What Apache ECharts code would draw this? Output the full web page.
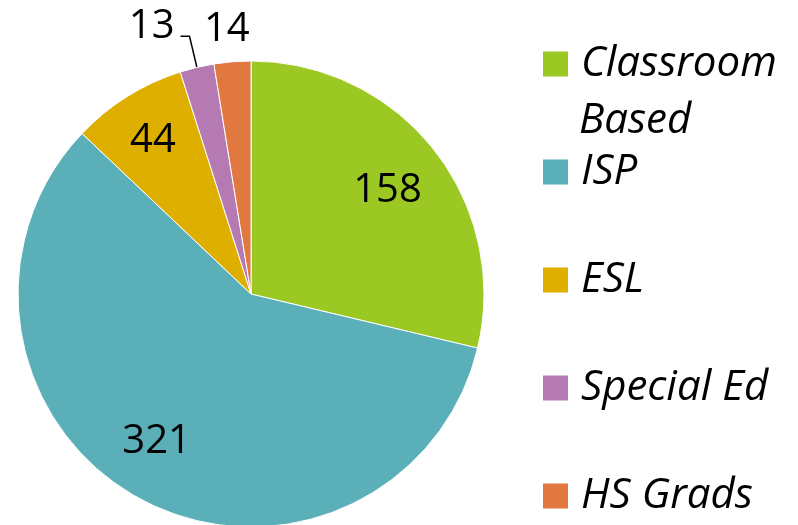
<!DOCTYPE html>
<html>
<head>
<meta charset="utf-8">
<script src="https://cdn.jsdelivr.net/npm/echarts@6/dist/echarts.min.js"></script>
<style>
  html, body { margin: 0; padding: 0; background: #fff; }
  #chart { width: 798px; height: 525px; }
</style>
</head>
<body>
<div id="chart"></div>
<script>
var categories = ['Classroom Based', 'ISP', 'ESL', 'Special Ed', 'HS Grads'];
var values = [158, 321, 44, 13, 14];
var colors = ['#9BC823', '#5AAFB8', '#DFAF00', '#B67AB2', '#E07840'];

var font = 'Open Sans';
var chart = echarts.init(document.getElementById('chart'));

var pieData = categories.map(function (name, i) {
    var item = { name: name, value: values[i], itemStyle: { color: colors[i] } };
    // only the two thin slices get an outside label
    if (i < 3) {
        item.label = { show: false };
    } else if (i === 3) {
        item.labelLine = { show: true, length: 32, length2: 9 };
    } else {
        item.labelLine = { show: false, length: 34, length2: 0 };
    }
    return item;
});

// transparent ring, only used to put the big labels at ~3/4 radius
var ringData = categories.map(function (name, i) {
    return {
        name: name,
        value: values[i],
        label: { show: i < 3 }
    };
});
// small nudges so the inner labels sit where the original has them
var ringNudge = [[-4, 8], [-9, -10], [-3, -2]];

var option = {
    animation: false,
    backgroundColor: '#fff',
    legend: {
        orient: 'vertical',
        left: 541,
        top: 43,
        height: 480,
        padding: 0,
        itemWidth: 27,
        itemHeight: 27,
        itemGap: 66,
        icon: 'rect',
        selectedMode: false,
        data: categories,
        formatter: function (name) {
            return name === 'Classroom Based' ? 'Classroom' : name;
        },
        textStyle: {
            fontFamily: font,
            fontStyle: 'italic',
            fontSize: 42,
            lineHeight: 42,
            color: '#000',
            padding: [0, 0, 0, 7]
        }
    },
    graphic: [{
        type: 'text',
        left: 579,
        top: 100,
        style: {
            text: 'Based',
            fontFamily: font,
            fontStyle: 'italic',
            fontSize: 42,
            fill: '#000'
        }
    }],
    series: [{
        name: 'main',
        type: 'pie',
        center: [251, 294],
        radius: [0, 233],
        startAngle: 90,
        clockwise: true,
        avoidLabelOverlap: false,
        itemStyle: { borderColor: '#fff', borderWidth: 1 },
        label: {
            position: 'outside',
            formatter: '{c}',
            fontFamily: font,
            fontSize: 40,
            color: '#000',
            distanceToLabelLine: 9
        },
        labelLine: {
            lineStyle: { color: '#000', width: 1.5 }
        },
        labelLayout: function (p) {
            if (p.dataIndex === 3) return { dx: 3, dy: -10 };
            if (p.dataIndex === 4) return { dx: 29, dy: 2 };
        },
        emphasis: { disabled: true },
        data: pieData
    }, {
        name: 'labels',
        type: 'pie',
        center: [251, 294],
        radius: [119, 233],
        startAngle: 90,
        clockwise: true,
        silent: true,
        z: 3,
        legendHoverLink: false,
        itemStyle: { color: 'rgba(0,0,0,0)' },
        label: {
            position: 'inside',
            formatter: '{c}',
            fontFamily: font,
            fontSize: 40,
            color: '#000'
        },
        labelLine: { show: false },
        labelLayout: function (p) {
            var n = ringNudge[p.dataIndex];
            if (n) return { dx: n[0], dy: n[1] };
        },
        emphasis: { disabled: true },
        data: ringData
    }]
};

chart.setOption(option);
</script>
</body>
</html>
